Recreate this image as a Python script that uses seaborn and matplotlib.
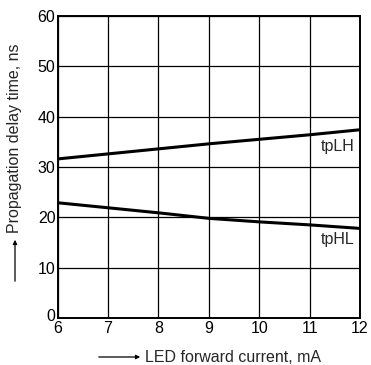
import numpy as np
import pandas as pd
import matplotlib
matplotlib.use("Agg")
import matplotlib.pyplot as plt
import matplotlib.transforms as mtransforms
import seaborn as sns

# data
current_ma = [6, 7, 8, 9, 10, 11, 12]
tplh_ns = [31.6, 32.6, 33.6, 34.6, 35.5, 36.4, 37.4]
tphl_ns = [22.9, 21.9, 20.9, 19.8, 19.1, 18.5, 17.8]
x_ticks = [6, 7, 8, 9, 10, 11, 12]
y_ticks = [0, 10, 20, 30, 40, 50, 60]

df = pd.DataFrame({
    "current": current_ma * 2,
    "delay": tplh_ns + tphl_ns,
    "curve": ["tpLH"] * len(current_ma) + ["tpHL"] * len(current_ma),
})

sns.set_theme(style="white")
plt.rcParams["font.family"] = ["Liberation Sans", "DejaVu Sans"]
FS = 11.5

fig = plt.figure(figsize=(3.71, 3.65), dpi=100)
ax = fig.add_axes([57.5 / 371, 1 - 318 / 365, (360 - 57.5) / 371, (318 - 16) / 365])

sns.lineplot(data=df, x="current", y="delay", units="curve", estimator=None,
             color="black", linewidth=2.2, ax=ax, legend=False)

ax.set_xlim(6, 12)
ax.set_ylim(0, 60)
ax.set_xticks(x_ticks)
ax.set_yticks(y_ticks)
ax.grid(True, color="black", linewidth=0.9)
ax.set_axisbelow(True)
for s in ax.spines.values():
    s.set_color("black")
    s.set_linewidth(1.4)
ax.tick_params(axis="x", length=0, labelsize=FS, colors="black", pad=2.5)
ax.tick_params(axis="y", length=0, labelsize=FS, colors="black", pad=1.5)
ax.set_xlabel("")
ax.set_ylabel("")

# lift the "0" a little, like the reference, so it clears the "6"
fig.canvas.draw()
zero_lbl = ax.get_yticklabels()[0]
zero_lbl.set_transform(zero_lbl.get_transform() +
                       mtransforms.ScaledTranslation(0, 3 / 100, fig.dpi_scale_trans))

ax.text(11.55, 34.0, "tpLH", fontsize=FS, ha="center", va="center")
ax.text(11.55, 15.5, "tpHL", fontsize=FS, ha="center", va="center")

# axis titles with arrows
fig.text(145 / 371, 1 - 357 / 365, "LED forward current, mA", fontsize=FS,
         ha="left", va="center")
fig.patches.append(matplotlib.patches.FancyArrowPatch(
    (96 / 371, 1 - 357 / 365), (143 / 371, 1 - 357 / 365),
    transform=fig.transFigure, arrowstyle="-|>", mutation_scale=6,
    color="black", linewidth=0.9))
fig.text(15 / 371, 1 - 138 / 365, "Propagation delay time, ns", fontsize=FS,
         rotation=90, ha="center", va="center")
fig.patches.append(matplotlib.patches.FancyArrowPatch(
    (15 / 371, 1 - 284 / 365), (15 / 371, 1 - 237 / 365),
    transform=fig.transFigure, arrowstyle="-|>", mutation_scale=6,
    color="black", linewidth=0.9))

fig.savefig("out.png", dpi=100)
